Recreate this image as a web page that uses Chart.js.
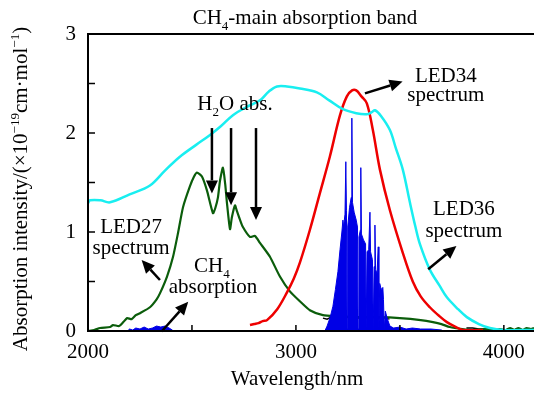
<!DOCTYPE html>
<html>
<head>
<meta charset="utf-8">
<script src="https://cdn.jsdelivr.net/npm/chart.js@4.4.1/dist/chart.umd.min.js"></script>
<style>
  html, body { margin: 0; padding: 0; background: #fff; }
</style>
</head>
<body>
<canvas id="chart" width="534" height="393"></canvas>
<script>
const SERIF = '"Liberation Serif", "Times New Roman", serif';

// axis ticks
const xTicks = [2000, 2500, 3000, 3500, 4000];
const yTicks = [0, 0.5, 1, 1.5, 2, 2.5, 3];

// [wavelength nm, intensity]
const led36 = [[2000,1.29],[2010,1.32],[2060,1.32],[2106,1.30],[2200,1.38],[2298,1.47],[2370,1.62],[2442,1.76],[2520,1.88],[2587,1.98],[2640,2.07],[2697,2.18],[2760,2.26],[2827,2.33],[2870,2.42],[2909,2.47],[2957,2.47],[3019,2.45],[3101,2.41],[3160,2.33],[3226,2.24],[3290,2.20],[3341,2.19],[3365,2.21],[3380,2.23],[3410,2.17],[3452,2.03],[3480,1.85],[3514,1.63],[3548,1.30],[3575,1.05],[3596,0.88],[3644,0.62],[3690,0.46],[3726,0.34],[3780,0.22],[3822,0.14],[3880,0.07],[3933,0.03],[3995,0.01],[4145,0.01]];

const led34 = [[2779,0.06],[2800,0.07],[2820,0.08],[2840,0.10],[2861,0.11],[2910,0.22],[2957,0.39],[2990,0.53],[3019,0.69],[3067,1.02],[3115,1.39],[3163,1.76],[3212,2.18],[3245,2.37],[3270,2.43],[3290,2.43],[3315,2.37],[3341,2.30],[3370,2.03],[3404,1.63],[3452,1.22],[3514,0.79],[3562,0.50],[3600,0.35],[3644,0.24],[3690,0.15],[3726,0.09],[3770,0.04],[3803,0.01],[3900,0.01]];

const led27 = [[2000,0.00],[2030,0.01],[2058,0.03],[2106,0.04],[2120,0.06],[2150,0.05],[2170,0.09],[2188,0.13],[2210,0.12],[2230,0.16],[2250,0.18],[2298,0.24],[2330,0.32],[2346,0.38],[2380,0.55],[2409,0.75],[2433,0.99],[2457,1.25],[2490,1.46],[2510,1.56],[2524,1.60],[2548,1.56],[2572,1.42],[2601,1.19],[2612,1.24],[2625,1.35],[2635,1.52],[2649,1.65],[2660,1.48],[2668,1.30],[2683,1.03],[2692,1.15],[2707,1.27],[2715,1.22],[2730,1.13],[2745,1.05],[2779,0.95],[2803,0.96],[2827,0.89],[2875,0.75],[2923,0.55],[2971,0.40],[3019,0.30],[3067,0.21],[3130,0.16],[3200,0.15],[3293,0.14],[3400,0.14],[3500,0.13],[3600,0.11],[3659,0.09],[3700,0.07],[3740,0.04],[3800,0.02],[3851,0.01],[3900,0.02],[3950,0.01],[3980,0.02],[4010,0.01],[4030,0.03],[4050,0.01],[4070,0.03],[4090,0.01],[4110,0.03],[4130,0.02],[4145,0.03]];

const ch4Low = [[2190,0],[2200,0.02],[2215,0.01],[2230,0.03],[2250,0.02],[2270,0.04],[2290,0.02],[2310,0.03],[2330,0.05],[2350,0.04],[2370,0.05],[2390,0.03],[2405,0.01],[2410,0]];

const ch4Band = [[3139,0],[3150,0.05],[3165,0.14],[3178,0.25],[3190,0.42],[3202,0.6],[3212,0.82],[3221,1.0],[3226,1.12],[3229,1.05],[3236,1.18],[3240,1.71],[3243,1.22],[3246,0.02],[3249,1.05],[3258,1.25],[3266,1.35],[3269,2.15],[3272,1.3],[3280,1.2],[3290,1.12],[3296,1.05],[3299,0.02],[3303,0.95],[3310,1.02],[3312,1.65],[3315,0.98],[3325,0.92],[3335,0.88],[3338,0.02],[3342,0.8],[3350,0.82],[3356,1.2],[3359,0.8],[3368,0.72],[3372,0.02],[3376,0.65],[3380,1.07],[3383,0.62],[3390,0.58],[3396,0.85],[3399,0.02],[3403,0.48],[3410,0.42],[3418,0.44],[3421,0.32],[3425,0.02],[3430,0.2],[3440,0.12],[3452,0.05],[3470,0.03],[3500,0.04],[3530,0.02],[3560,0.03],[3600,0.02],[3650,0.02],[3700,0.01],[3710,0]];

const blackA = [[3130,0.13],[3150,0.12],[3170,0.14],[3190,0.12],[3210,0.15],[3230,0.12],[3250,0.14],[3270,0.12],[3290,0.15],[3310,0.12],[3330,0.14],[3350,0.13],[3370,0.15],[3390,0.12],[3410,0.14],[3430,0.13],[3450,0.12]];
const blackB = [[3820,0.03],[3850,0.03],[3880,0.02],[3920,0.02],[3950,0.01]];

// text notes: parts [text, 0 normal / -1 subscript / 1 superscript], anchored at baseline
const notes = [
  { parts: [['H',0],['2',-1],['O abs.',0]], x: 2707, y: 2.232 },
  { parts: [['LED34',0]], x: 3721, y: 2.515 },
  { parts: [['spectrum',0]], x: 3721, y: 2.323 },
  { parts: [['LED36',0]], x: 3808, y: 1.172 },
  { parts: [['spectrum',0]], x: 3808, y: 0.95 },
  { parts: [['LED27',0]], x: 2207, y: 0.99 },
  { parts: [['spectrum',0]], x: 2207, y: 0.778 },
  { parts: [['CH',0],['4',-1]], x: 2596, y: 0.596 },
  { parts: [['absorption',0]], x: 2601, y: 0.384 }
];

// arrows [x1, y1, x2(tip), y2(tip)]
const arrows = [
  [2596, 2.05, 2596, 1.39],
  [2688, 2.05, 2688, 1.27],
  [2808, 2.05, 2808, 1.12],
  [3332, 2.40, 3513, 2.52],
  [3636, 0.623, 3772, 0.859],
  [2346, 0.515, 2258, 0.717],
  [2354, -0.005, 2482, 0.296]
];

const toXY = arr => arr.map(p => ({ x: p[0], y: p[1] }));

function drawRuns(ctx, parts, cx, base, size) {
  let w = 0;
  parts.forEach(p => {
    ctx.font = (p[1] ? size * 0.62 : size) + 'px ' + SERIF;
    w += ctx.measureText(p[0]).width;
  });
  let x = cx - w / 2;
  ctx.textAlign = 'left';
  ctx.textBaseline = 'alphabetic';
  parts.forEach(p => {
    ctx.font = (p[1] ? size * 0.62 : size) + 'px ' + SERIF;
    let dy = p[1] < 0 ? size * 0.28 : (p[1] > 0 ? -size * 0.4 : 0);
    ctx.fillText(p[0], x, base + dy);
    x += ctx.measureText(p[0]).width;
  });
}

function drawArrow(ctx, x1, y1, x2, y2) {
  const ang = Math.atan2(y2 - y1, x2 - x1);
  const len = 13, half = 6;
  const bx = x2 - Math.cos(ang) * len, by = y2 - Math.sin(ang) * len;
  ctx.lineWidth = 2.5;
  ctx.beginPath();
  ctx.moveTo(x1, y1);
  ctx.lineTo(bx, by);
  ctx.stroke();
  ctx.beginPath();
  ctx.moveTo(x2, y2);
  ctx.lineTo(bx + Math.sin(ang) * half, by - Math.cos(ang) * half);
  ctx.lineTo(bx - Math.sin(ang) * half, by + Math.cos(ang) * half);
  ctx.closePath();
  ctx.fill();
}

const decor = {
  id: 'decor',
  afterDraw(chart) {
    const { ctx, chartArea: a, scales } = chart;
    const sx = scales.x, sy = scales.y;
    ctx.save();
    ctx.strokeStyle = '#000';
    ctx.fillStyle = '#000';
    ctx.lineWidth = 2;
    ctx.beginPath();
    ctx.moveTo(a.right, a.top);
    ctx.lineTo(a.left, a.top);
    ctx.lineTo(a.left, a.bottom);
    ctx.lineTo(a.right, a.bottom);
    ctx.stroke();
    ctx.lineWidth = 1.5;
    xTicks.forEach(v => {
      const px = sx.getPixelForValue(v);
      ctx.beginPath(); ctx.moveTo(px, a.bottom); ctx.lineTo(px, a.bottom - 6); ctx.stroke();
    });
    yTicks.forEach(v => {
      const py = sy.getPixelForValue(v);
      ctx.beginPath(); ctx.moveTo(a.left, py); ctx.lineTo(a.left + 7, py); ctx.stroke();
    });
    arrows.forEach(r => drawArrow(ctx, sx.getPixelForValue(r[0]), sy.getPixelForValue(r[1]),
                                       sx.getPixelForValue(r[2]), sy.getPixelForValue(r[3])));
    notes.forEach(n => drawRuns(ctx, n.parts, sx.getPixelForValue(n.x), sy.getPixelForValue(n.y), 21));
    drawRuns(ctx, [['CH',0],['4',-1],['-main absorption band',0]], 305, 24, 21);
    drawRuns(ctx, [['Wavelength/nm',0]], 297, 385, 21);
    ctx.translate(27, 189);
    ctx.rotate(-Math.PI / 2);
    drawRuns(ctx, [['Absorption intensity/(\u00d710',0],['\u221219',1],['cm\u00b7mol',0],['\u22121',1],[')',0]], 0, 0, 21);
    ctx.restore();
  }
};

Chart.defaults.font.family = SERIF;
Chart.defaults.color = '#000';

new Chart(document.getElementById('chart').getContext('2d'), {
  type: 'line',
  data: {
    datasets: [
      { data: toXY(led36), borderColor: '#19eef0', borderWidth: 2.5, tension: 0.35 },
      { data: toXY(ch4Low), borderColor: '#0000e6', backgroundColor: '#0000e6', borderWidth: 1, fill: 'origin', tension: 0 },
      { data: toXY(ch4Band), borderColor: '#0000e6', backgroundColor: '#0000e6', borderWidth: 1, fill: 'origin', tension: 0 },
      { data: toXY(led34), borderColor: '#ee0000', borderWidth: 2.5, tension: 0.35 },
      { data: toXY(led27), borderColor: '#0b5d0b', borderWidth: 2.2, tension: 0.2 },
      { data: toXY(blackA), borderColor: '#000', borderWidth: 1.5, tension: 0 },
      { data: toXY(blackB), borderColor: '#000', borderWidth: 1.5, tension: 0 }
    ]
  },
  options: {
    responsive: false,
    animation: false,
    devicePixelRatio: 1,
    layout: { padding: { top: 34, left: 0, right: 0, bottom: 0 } },
    elements: { point: { radius: 0 } },
    plugins: { legend: { display: false }, tooltip: { enabled: false } },
    scales: {
      x: {
        type: 'linear', min: 2000, max: 4145,
        grid: { display: false, drawTicks: false },
        border: { display: false },
        afterBuildTicks: s => { s.ticks = xTicks.map(v => ({ value: v })); },
        afterFit: s => { s.height = 62; },
        ticks: { font: { size: 21 }, padding: 9, maxRotation: 0,
                 callback: v => (v % 1000 === 0 ? String(v) : '') }
      },
      y: {
        min: 0, max: 3,
        grid: { display: false, drawTicks: false },
        border: { display: false },
        afterBuildTicks: s => { s.ticks = yTicks.map(v => ({ value: v })); },
        afterFit: s => { s.width = 88; },
        ticks: { font: { size: 21 }, padding: 12,
                 callback: v => (Number.isInteger(v) ? String(v) : '') }
      }
    }
  },
  plugins: [decor]
});
</script>
</body>
</html>
